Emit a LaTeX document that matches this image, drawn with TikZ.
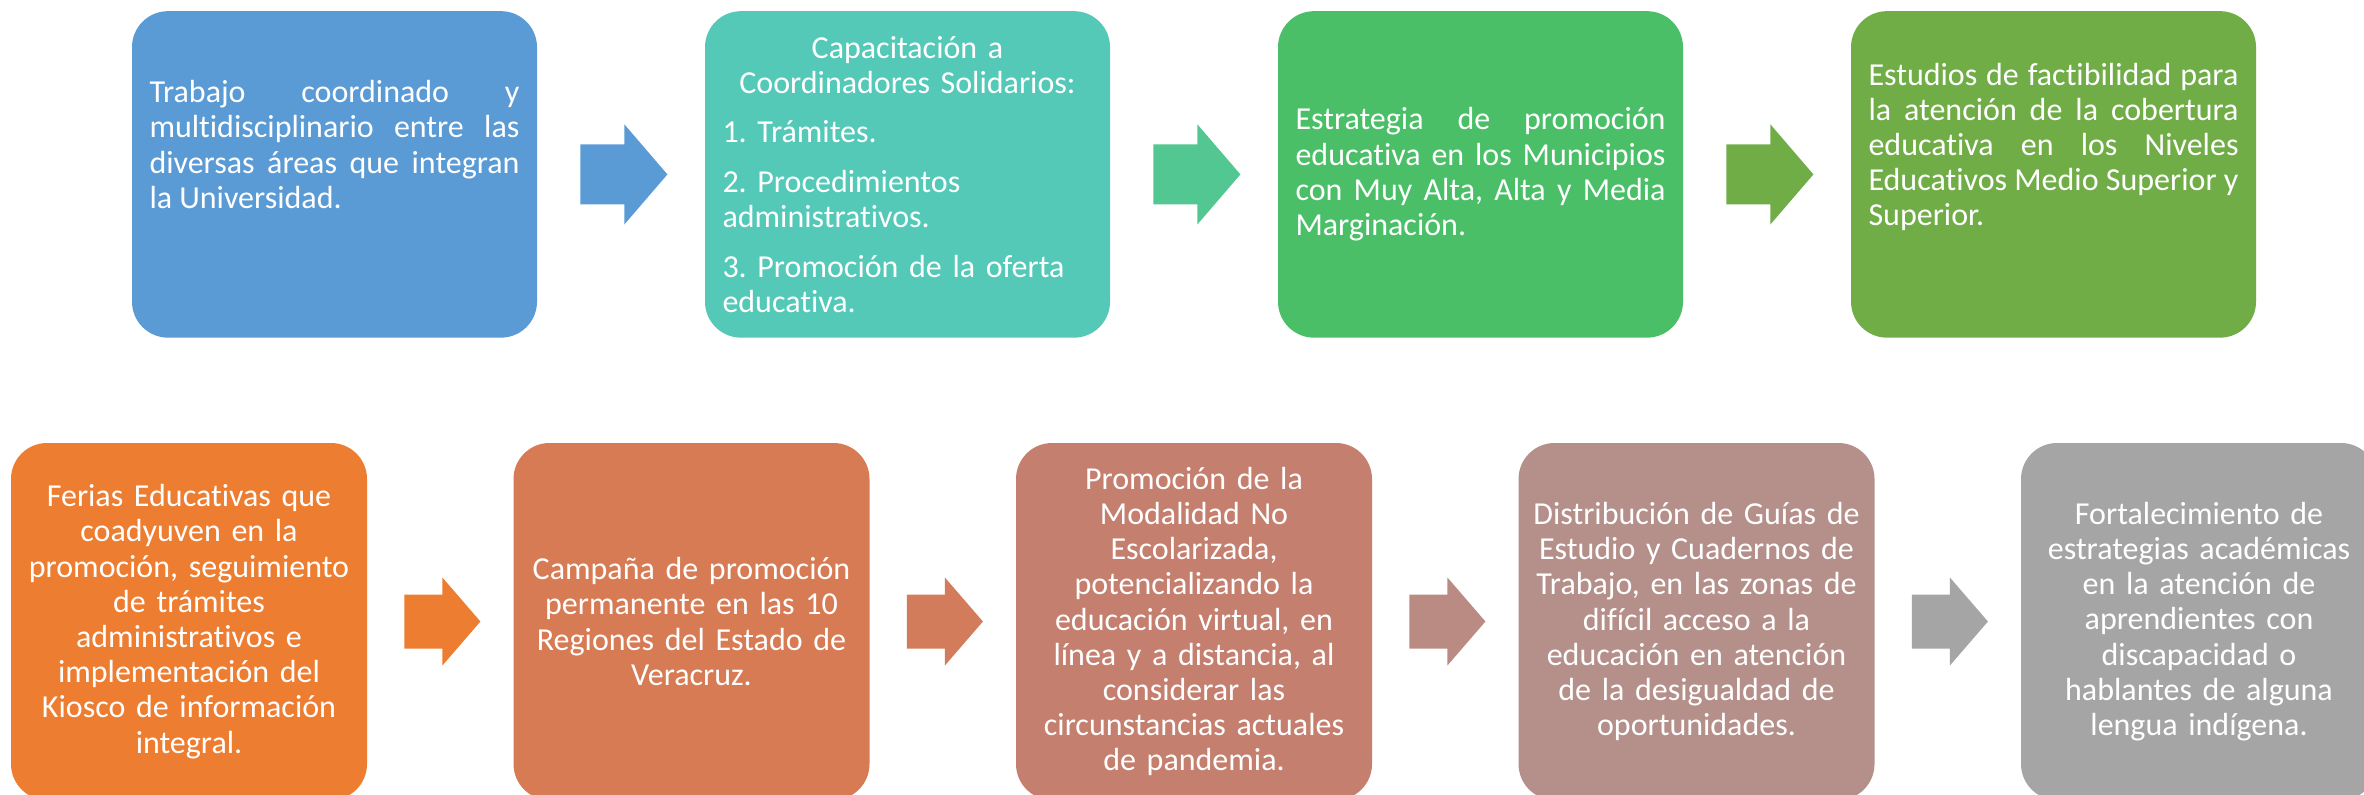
\documentclass[tikz,border=0pt]{standalone}
\usepackage{fontspec}
\setmainfont{Carlito}[Ligatures=NoCommon]
\usetikzlibrary{calc}
\frenchspacing

% Colours
\definecolor{boxA}{HTML}{5B9BD5}
\definecolor{boxB}{HTML}{54C9B8}
\definecolor{boxC}{HTML}{4ABF68}
\definecolor{boxD}{HTML}{70AD47}
\definecolor{arrB}{HTML}{52C792}
\definecolor{boxE}{HTML}{ED7D31}
\definecolor{boxF}{HTML}{D77B54}
\definecolor{boxG}{HTML}{C47F6F}
\definecolor{boxH}{HTML}{B5908A}
\definecolor{boxI}{HTML}{A5A5A5}
\definecolor{arrF}{HTML}{D37C5C}
\definecolor{arrG}{HTML}{BA8B83}

\tikzset{
    stepbox/.style={rounded corners=18pt, text=white, inner ysep=0pt,
        font=\fontsize{16pt}{17.6pt}\selectfont},
    topbox/.style={stepbox, minimum height=163.25pt, text width=185pt, inner xsep=8.75pt},
    lowbox/.style={stepbox, minimum height=178.5pt, text width=170pt, inner xsep=4pt, align=center},
}

% block arrow: start, colour, shaft, head, shaft half, head half
\newcommand{\blockarrow}[6]{%
    \fill[#2] ($(#1)+(0,-#5)$) -- ++(#3,0) -- ++(0,#5-#6) -- ++(#4,#6)
        -- ++(-#4,#6) -- ++(0,#5-#6) -- ++(-#3,0) -- cycle;}

\newcommand{\gap}{\par\vspace{7.2pt}}

\begin{document}
\begin{tikzpicture}[x=0.5pt, y=-0.5pt]

    \fill[white] (0,0) rectangle (2364,794);
    \useasboundingbox (0,0) rectangle (2364,794);
    \hyphenpenalty=10000

    % =====================================================
    % Top row
    % =====================================================
    \node[topbox, fill=boxA, align=justify] (b1) at (334.5,174.4)
        {Trabajo coordinado y\linebreak multidisciplinario entre las\linebreak
         diversas áreas que integran\linebreak la Universidad.\gap\strut};

    \node[topbox, fill=boxB, align=left] (b2) at (907.5,174.4)
        {{\centering Capacitación a\\ Coordinadores Solidarios:\par}\vspace{7.2pt}
         1. Trámites.\gap
         2. Procedimientos\\ administrativos.\gap
         3. Promoción de la oferta\\ educativa.};

    \node[topbox, fill=boxC, align=justify] (b3) at (1480.5,174.4)
        {Estrategia de promoción\linebreak educativa en los Municipios\linebreak
         con Muy Alta, Alta y Media\linebreak Marginación.};

    \node[topbox, fill=boxD, align=justify] (b4) at (2053.5,174.4)
        {Estudios de factibilidad para\linebreak la atención de la cobertura\linebreak
         educativa en los Niveles\linebreak Educativos Medio Superior y\linebreak
         Superior.\gap\strut};

    \blockarrow{$(b1.east)+(43,0)$}{boxA}{44}{43}{30}{50}
    \blockarrow{$(b2.east)+(43,0)$}{arrB}{44}{43}{30}{50}
    \blockarrow{$(b3.east)+(43,0)$}{boxD}{44}{43}{30}{50}

    % =====================================================
    % Bottom row
    % =====================================================
    \node[lowbox, fill=boxE] (c1) at (189,621.5)
        {Ferias Educativas que\\ coadyuven en la\\ promoción, seguimiento\\
         de trámites\\ administrativos e\\ implementación del\\
         Kiosco de información\\ integral.};

    \node[lowbox, fill=boxF] (c2) at (691.5,621.5)
        {Campaña de promoción\\ permanente en las 10\\ Regiones del Estado de\\ Veracruz.};

    \node[lowbox, fill=boxG] (c3) at (1194,621.5)
        {Promoción de la\\ Modalidad No\\ Escolarizada,\\ potencializando la\\
         educación virtual, en\\ línea y a distancia, al\\ considerar las\\
         circunstancias actuales\\ de pandemia.};

    \node[lowbox, fill=boxH] (c4) at (1696.5,621.5)
        {Distribución de Guías de\\ Estudio y Cuadernos de\\ Trabajo, en las zonas de\\
         difícil acceso a la\\ educación en atención\\ de la desigualdad de\\ oportunidades.};

    \node[lowbox, fill=boxI] (c5) at (2199,621.5)
        {Fortalecimiento de\\ estrategias académicas\\ en la atención de\\
         aprendientes con\\ discapacidad o\\ hablantes de alguna\\ lengua indígena.};

    \blockarrow{$(c1.east)+(37,0)$}{boxE}{38}{38}{27}{44}
    \blockarrow{$(c2.east)+(37,0)$}{arrF}{38}{38}{27}{44}
    \blockarrow{$(c3.east)+(37,0)$}{arrG}{38}{38}{27}{44}
    \blockarrow{$(c4.east)+(37,0)$}{boxI}{38}{38}{27}{44}

\end{tikzpicture}
\end{document}
